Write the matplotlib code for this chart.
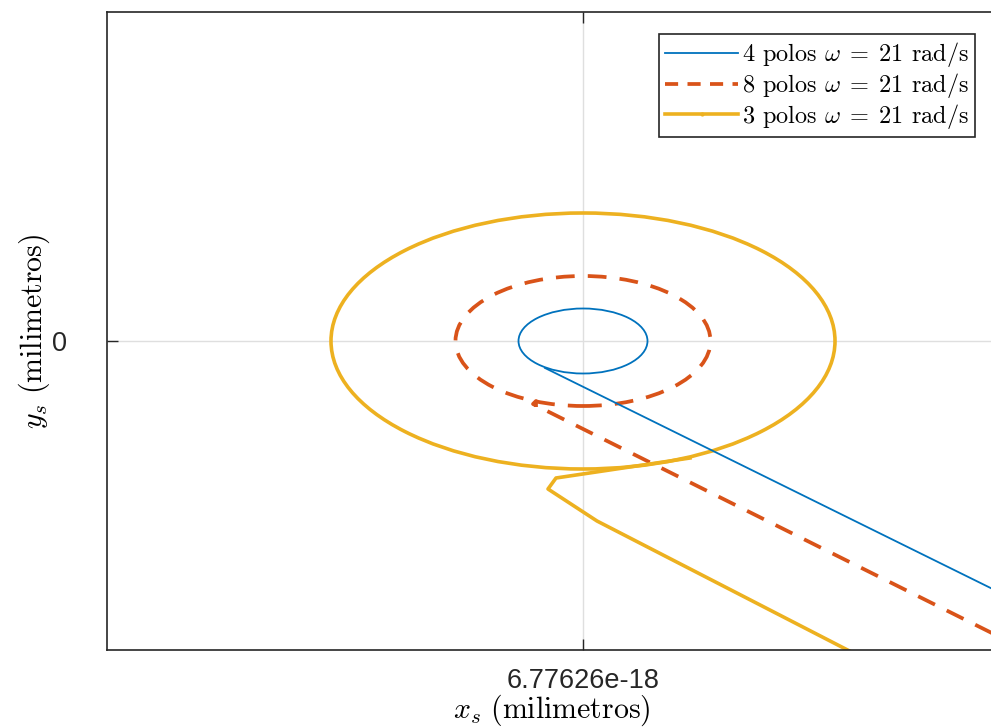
import matplotlib.pyplot as plt
from matplotlib.patches import Ellipse
from matplotlib.lines import Line2D

plt.rcParams['mathtext.fontset'] = 'cm'
plt.rcParams['font.family'] = ['Liberation Sans', 'DejaVu Sans']

# orbitas (mm): centro, semi-ejes
labels = [r'4 polos $\omega\;=\;21$ rad/s',
          r'8 polos $\omega\;=\;21$ rad/s',
          r'3 polos $\omega\;=\;21$ rad/s']
colors = ['#0072BD', '#D95319', '#EDB120']
centro = (0.0, 0.0)
semi_x = [0.645, 1.275, 2.52]
semi_y = [0.325, 0.65, 1.28]

# trayectoria de entrada hasta la orbita
tail_x = [[5.17, -0.38],
          [5.17, -0.50, -0.47, -0.47],
          [3.17, 0.14, -0.35, -0.27, 1.07]]
tail_y = [[-3.01, -0.27],
          [-3.46, -0.63, -0.60, -0.66],
          [-3.36, -1.80, -1.48, -1.37, -1.17]]

styles = ['-', (0, (5, 3.5)), '-']
widths = [1.3, 2.7, 2.6]

fig = plt.figure(figsize=(9.91, 7.27), dpi=100)
ax = fig.add_axes([107/991, 1-650/727, 890/991, 638/727])

for i in range(3):
    e = Ellipse(centro, 2*semi_x[i], 2*semi_y[i], fill=False, edgecolor=colors[i],
                lw=widths[i], ls=styles[i])
    ax.add_patch(e)
    ax.plot(tail_x[i], tail_y[i], color=colors[i], lw=widths[i], ls=styles[i])

ax.set_xlim(-4.76, 4.14)
ax.set_ylim(-3.09, 3.29)
ax.set_xticks([0])
ax.set_xticklabels(['6.77626e-18'])
ax.set_yticks([0])
ax.set_yticklabels(['0'])
ax.tick_params(direction='in', length=8, width=1, top=True, right=False,
               labelsize=19.5, colors='#262626', pad=13)
ax.tick_params(axis='y', pad=29)
ax.grid(True, color='#dfdfdf', lw=1)
ax.set_axisbelow(True)
for s in ax.spines.values():
    s.set_color('#262626')
    s.set_linewidth(1.2)

ax.set_xlabel(r'$x_s\ \mathrm{(milimetros)}$', fontsize=21.5)
ax.set_ylabel(r'$y_s\ \mathrm{(milimetros)}$', fontsize=21.5)
ax.xaxis.set_label_coords(0.5, -0.067)
ax.yaxis.set_label_coords(-0.062, 0.5)

handles = [Line2D([], [], color=colors[0], lw=widths[0], ls='-'),
           Line2D([], [], color=colors[1], lw=widths[1], ls=(0, (3.5, 2.5))),
           Line2D([], [], color=colors[2], lw=widths[2], ls='-', marker='.', markersize=4)]
leg = ax.legend(handles, labels, loc='upper left', bbox_to_anchor=((659-107)/890, 1-22/638),
                prop={'family': 'cmr10', 'size': 17.5}, frameon=True, fancybox=False,
                edgecolor='#262626', framealpha=1, handlelength=3.0, handletextpad=0.15,
                borderpad=0.25, labelspacing=0.08, borderaxespad=0)
leg.get_frame().set_linewidth(1.2)

fig.savefig('out.png', dpi=100)
